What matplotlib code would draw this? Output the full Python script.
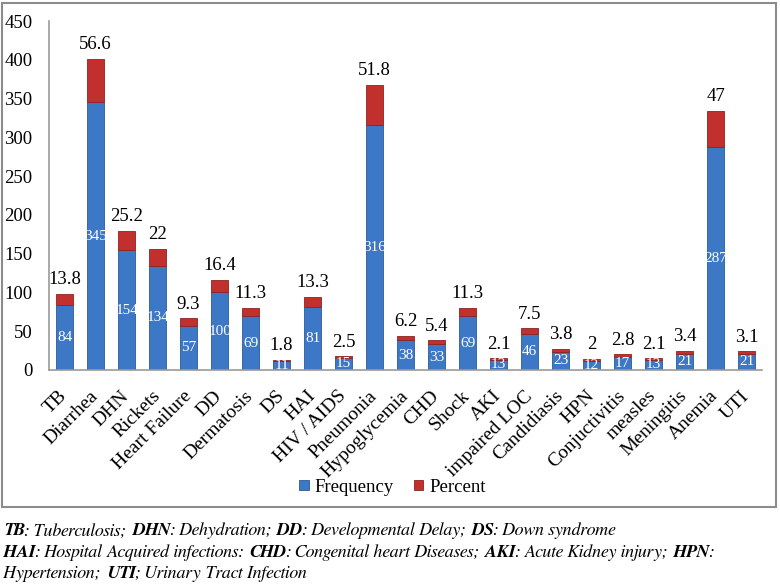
import matplotlib
matplotlib.use("Agg")
import matplotlib.pyplot as plt
from matplotlib.patches import Rectangle

# data
diseases = ["TB", "Diarrhea", "DHN", "Rickets", "Heart Failure", "DD", "Dermatosis",
            "DS", "HAI", "HIV / AIDS", "Pneumonia", "Hypoglycemia", "CHD", "Shock",
            "AKI", "impaired LOC", "Candidiasis", "HPN", "Conjuctivitis", "measles",
            "Meningitis", "Anemia", "UTI"]
frequency = [84, 345, 154, 134, 57, 100, 69, 11, 81, 15, 316, 38, 33, 69,
             13, 46, 23, 12, 17, 13, 21, 287, 21]
percent = [13.8, 56.6, 25.2, 22, 9.3, 16.4, 11.3, 1.8, 13.3, 2.5, 51.8, 6.2, 5.4, 11.3,
           2.1, 7.5, 3.8, 2, 2.8, 2.1, 3.4, 47, 3.1]
yticks = [0, 50, 100, 150, 200, 250, 300, 350, 400, 450]

serif = "Liberation Serif"
note_font = "FreeSerif"  # has a real italic, Times-like
plt.rcParams["font.family"] = serif

fig = plt.figure(figsize=(7.8, 5.87), dpi=100)
ax = fig.add_axes([0.063, 0.370, 0.914, 0.594])

x = list(range(len(diseases)))
blue = "#3c78c6"
red = "#c2302d"
b1 = ax.bar(x, frequency, width=0.56, color=blue, edgecolor="#2b5a9a", linewidth=0.6,
            label="Frequency")
b2 = ax.bar(x, percent, width=0.56, bottom=frequency, color=red, edgecolor="#8e2220",
            linewidth=0.6, label="Percent")

# white frequency labels in the middle of the blue part
for xi, f in zip(x, frequency):
    ax.text(xi, f / 2, str(f), ha="center", va="center", color="white", fontsize=11)

# percent labels above each stack
for xi, f, p in zip(x, frequency, percent):
    ax.annotate(f"{p:g}", (xi, f + p), xytext=(0, 4), textcoords="offset points",
                ha="center", va="bottom", fontsize=13.5, color="black")

ax.set_xlim(-0.5, len(diseases) - 0.5)
ax.set_ylim(0, 450)
ax.set_yticks(yticks)
ax.set_yticklabels([str(t) for t in yticks], fontsize=13.5)
ax.set_xticks(x)
ax.set_xticklabels(diseases, rotation=45, ha="right", va="center",
                   rotation_mode="anchor", fontsize=14)
ax.tick_params(axis="y", length=0, pad=12)
ax.tick_params(axis="x", length=0, pad=17)
for s in ["top", "right"]:
    ax.spines[s].set_visible(False)
ax.spines["left"].set_color("#9a9a9a")
ax.spines["bottom"].set_color("#9a9a9a")
ax.spines["left"].set_linewidth(1.2)
ax.spines["bottom"].set_linewidth(1.2)

fig.legend(handles=[b1, b2], loc="center", bbox_to_anchor=(0.503, 0.170), ncol=2,
           frameon=False, fontsize=13.5, handlelength=0.5, handleheight=0.5,
           handletextpad=0.3, columnspacing=1.1)

# chart border
fig.add_artist(Rectangle((2 / 780, 1 - 507 / 587), 774 / 780, 504 / 587,
                         transform=fig.transFigure, fill=False,
                         edgecolor="#8c8c8c", linewidth=1.5))

# footnotes with bold-italic abbreviations
notes = [
    [("TB", True), (": Tuberculosis; ", False), ("DHN", True), (": Dehydration; ", False),
     ("DD", True), (": Developmental Delay; ", False), ("DS", True), (": Down syndrome", False)],
    [("HAI", True), (": Hospital Acquired infections: ", False), ("CHD", True),
     (": Congenital heart Diseases; ", False), ("AKI", True), (": Acute Kidney injury; ", False),
     ("HPN", True), (":", False)],
    [("Hypertension; ", False), ("UTI", True), ("; Urinary Tract Infection", False)],
]
line_y = [531, 553, 574]
renderer = fig.canvas.get_renderer()
for parts, yp in zip(notes, line_y):
    xp = 3
    for txt, bold in parts:
        t = fig.text(xp / 780, 1 - yp / 587, txt, fontsize=13, family=note_font,
                     style="italic", weight="bold" if bold else "normal",
                     ha="left", va="center")
        xp += t.get_window_extent(renderer).width + (2 if txt.endswith(" ") else 0)

fig.savefig("out.png", dpi=100)
